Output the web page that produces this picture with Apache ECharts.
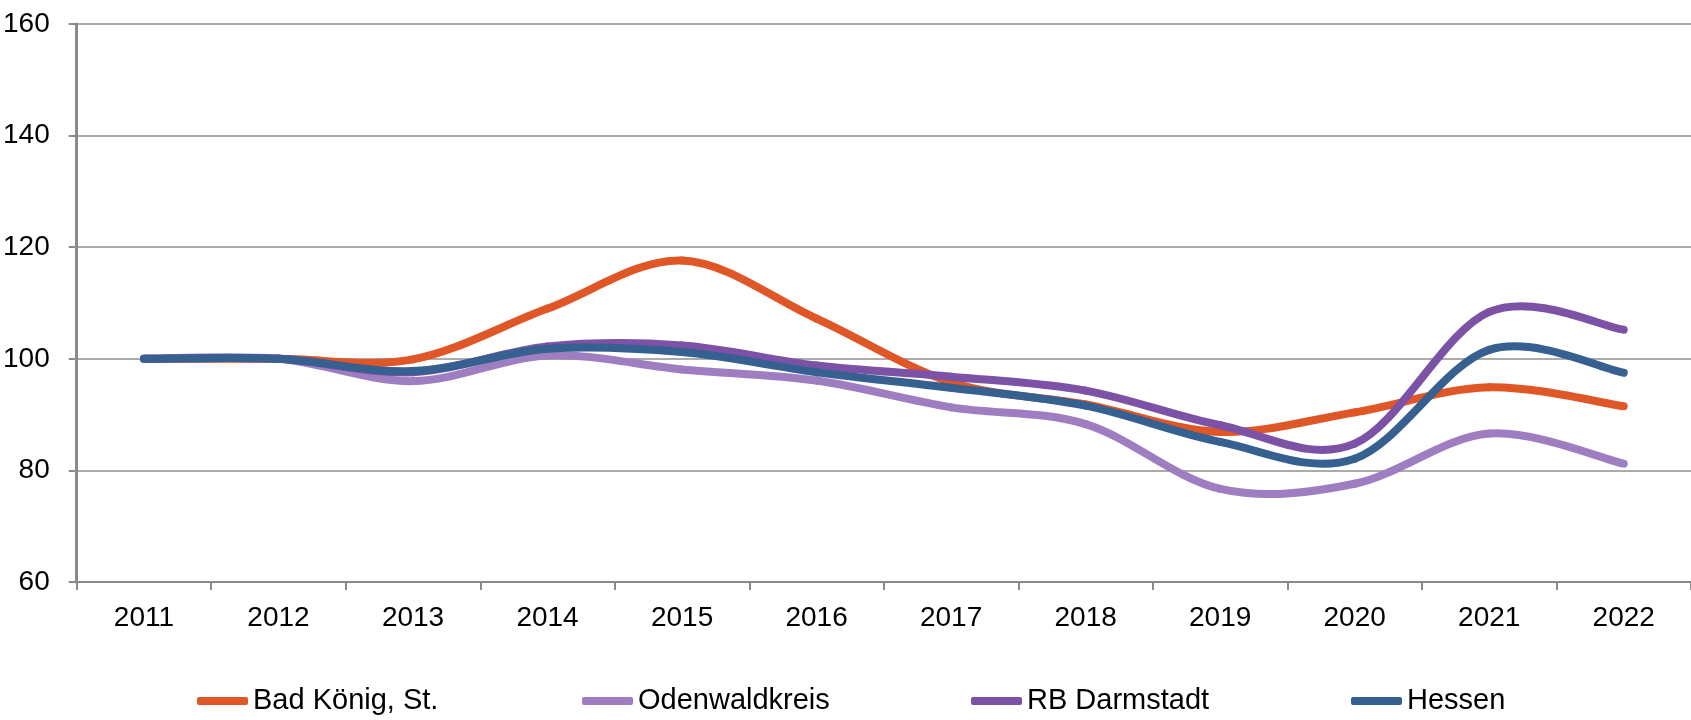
<!DOCTYPE html>
<html>
<head>
<meta charset="utf-8">
<script src="https://cdn.jsdelivr.net/npm/echarts@6/dist/echarts.min.js"></script>
<style>
html,body{margin:0;padding:0;background:#fff;}
#c{width:1691px;height:720px;}
</style>
</head>
<body>
<div id="c"></div>
<script>
var categories = ['2011','2012','2013','2014','2015','2016','2017','2018','2019','2020','2021','2022'];
var badKoenig   = [100, 100.0, 99.9, 109.0, 117.6, 107.2, 95.8, 91.8, 86.9, 90.4, 94.9, 91.5];
var odenwald    = [100, 100.0, 96.0, 100.6, 98.1, 96.1, 91.3, 88.3, 76.7, 77.6, 86.6, 81.2];
var rbDarmstadt = [100, 100.0, 97.6, 102.2, 102.4, 98.8, 96.8, 94.3, 88.1, 84.8, 108.4, 105.2];
var hessen      = [100, 100.0, 97.8, 101.8, 101.2, 97.6, 94.8, 91.6, 85.1, 82.1, 101.6, 97.5];
var yTicks = {min: 60, max: 160, interval: 20};
var names = ['Bad König, St.', 'Odenwaldkreis', 'RB Darmstadt', 'Hessen'];
var colors = ['#DF5627', '#9E7EC0', '#7B52A6', '#35608F'];
var values = [badKoenig, odenwald, rbDarmstadt, hessen];

var font = "'Liberation Sans', Arial, sans-serif";
var legendLefts = [197, 582, 971, 1351];

function makeRender(vals, color) {
  var n = vals.length;
  return function (params, api) {
    var i = params.dataIndex;
    if (i >= n - 1) return null;
    function p(j) {
      j = Math.max(0, Math.min(n - 1, j));
      return api.coord([j, vals[j]]);
    }
    var p0 = p(i - 1), p1 = p(i), p2 = p(i + 1), p3 = p(i + 2);
    var t = 1 / 6;
    return {
      type: 'bezierCurve',
      shape: {
        x1: p1[0], y1: p1[1], x2: p2[0], y2: p2[1],
        cpx1: p1[0] + (p2[0] - p0[0]) * t, cpy1: p1[1] + (p2[1] - p0[1]) * t,
        cpx2: p2[0] - (p3[0] - p1[0]) * t, cpy2: p2[1] - (p3[1] - p1[1]) * t
      },
      style: {stroke: color, lineWidth: 8, fill: null, lineCap: 'round', lineJoin: 'round'}
    };
  };
}

var chart = echarts.init(document.getElementById('c'), null, {renderer: 'canvas'});
var option = {
  animation: false,
  backgroundColor: '#ffffff',
  grid: {left: 75, top: 24, width: 1620, height: 558, containLabel: false},
  legend: names.map(function (n, i) {
    return {
      data: [n], left: legendLefts[i], top: 685, orient: 'horizontal', padding: 0,
      icon: 'roundRect', itemWidth: 51, itemHeight: 8,
      textStyle: {fontFamily: font, fontSize: 29, color: '#000', lineHeight: 32}
    };
  }),
  xAxis: {
    type: 'category', data: categories, boundaryGap: true,
    axisLine: {show: true, lineStyle: {color: '#8A8A8A', width: 2}},
    axisTick: {show: true, length: 8, inside: false, lineStyle: {color: '#8A8A8A', width: 2}},
    axisLabel: {fontFamily: font, fontSize: 28, color: '#000', margin: 22},
    splitLine: {show: false}
  },
  yAxis: {
    type: 'value', min: yTicks.min, max: yTicks.max, interval: yTicks.interval,
    axisLine: {show: true, lineStyle: {color: '#8A8A8A', width: 3}},
    axisTick: {show: true, length: 8, lineStyle: {color: '#8A8A8A', width: 2}},
    axisLabel: {fontFamily: font, fontSize: 28, color: '#000', margin: 27},
    splitLine: {show: true, lineStyle: {color: '#ABABAB', width: 2}}
  },
  series: names.map(function (n, k) {
    return {
      name: n, type: 'custom', z: 2 + k,
      coordinateSystem: 'cartesian2d',
      data: values[k].map(function (v, j) { return [j, v]; }),
      encode: {x: 0, y: 1},
      itemStyle: {color: colors[k]},
      renderItem: makeRender(values[k], colors[k]),
      clip: false
    };
  })
};
chart.setOption(option);
</script>
</body>
</html>
